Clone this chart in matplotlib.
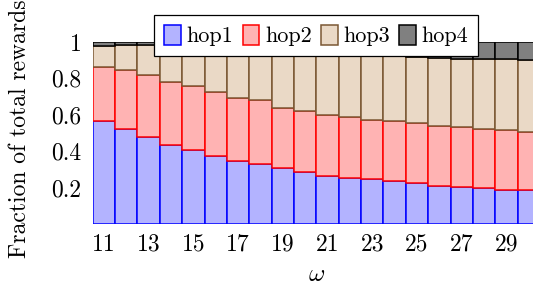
import matplotlib
matplotlib.use("Agg")
import matplotlib.pyplot as plt

plt.rcParams['font.family'] = ['cmr10', 'DejaVu Serif']
plt.rcParams['mathtext.fontset'] = 'cm'
plt.rcParams['axes.unicode_minus'] = False
plt.rcParams['axes.formatter.use_mathtext'] = True

omega = [11, 12, 13, 14, 15, 16, 17, 18, 19, 20,
         21, 22, 23, 24, 25, 26, 27, 28, 29, 30]
hop1 = [0.566, 0.520, 0.476, 0.436, 0.405, 0.375, 0.344, 0.328, 0.306, 0.283,
        0.262, 0.251, 0.245, 0.236, 0.225, 0.211, 0.203, 0.198, 0.185, 0.189]
hop2 = [0.295, 0.324, 0.345, 0.342, 0.355, 0.352, 0.348, 0.352, 0.330, 0.340,
        0.336, 0.337, 0.325, 0.328, 0.328, 0.329, 0.328, 0.322, 0.330, 0.315]
hop3 = [0.119, 0.139, 0.164, 0.210, 0.228, 0.258, 0.288, 0.295, 0.334, 0.342,
        0.362, 0.362, 0.370, 0.366, 0.367, 0.372, 0.375, 0.387, 0.392, 0.397]
hop4 = [0.020, 0.017, 0.015, 0.012, 0.012, 0.015, 0.020, 0.025, 0.030, 0.035,
        0.040, 0.050, 0.060, 0.070, 0.080, 0.088, 0.094, 0.093, 0.093, 0.099]
series_names = ['hop1', 'hop2', 'hop3', 'hop4']
xticks = [11, 13, 15, 17, 19, 21, 23, 25, 27, 29]
yticks = [0.2, 0.4, 0.6, 0.8, 1.0]
yticklabels = ['0.2', '0.4', '0.6', '0.8', '1']

fills = ['#b3b3ff', '#ffb3b3', '#ead9c6', '#808080']
edges = ['#0000ff', '#ff0000', '#7a5733', '#000000']

fig = plt.figure(figsize=(5.33, 2.88), dpi=100)
ax = fig.add_axes([92.7 / 533, 64 / 288, 447.3 / 533, 182 / 288])

bottom = [0.0] * len(omega)
handles = []
for vals, fc, ec, name in zip([hop1, hop2, hop3, hop4], fills, edges, series_names):
    b = ax.bar(omega, vals, width=1.0, bottom=bottom, color=fc, edgecolor=ec,
               linewidth=1.1, label=name)
    handles.append(b)
    bottom = [bb + v for bb, v in zip(bottom, vals)]

ax.set_xlim(10.5, 30.5)
ax.set_ylim(0, 1.0)
ax.set_xticks(xticks)
ax.set_xticklabels([str(t) for t in xticks])
ax.set_yticks(yticks)
ax.set_yticklabels(yticklabels)
ax.tick_params(axis='both', length=0, labelsize=17)
ax.tick_params(axis='x', pad=7)
ax.tick_params(axis='y', pad=8)
for s in ax.spines.values():
    s.set_visible(False)

ax.set_ylabel('Fraction of total rewards', fontsize=17, va='center')
ax.yaxis.set_label_coords(-0.1625, 0.522)
ax.set_xlabel(r'$\omega$', fontsize=18, va='center')
ax.xaxis.set_label_coords(0.5, -0.28)

leg = ax.legend(handles=handles, labels=series_names, ncol=4, loc='upper center',
                bbox_to_anchor=(0.5, 1.148), fontsize=16, frameon=True,
                fancybox=False, framealpha=1, edgecolor='black',
                handlelength=0.75, handleheight=0.98, handletextpad=0.25,
                columnspacing=0.42, borderpad=0.45, borderaxespad=0)
leg.get_frame().set_linewidth(0.9)
leg.set_zorder(10)

fig.savefig('out.png', dpi=100)
